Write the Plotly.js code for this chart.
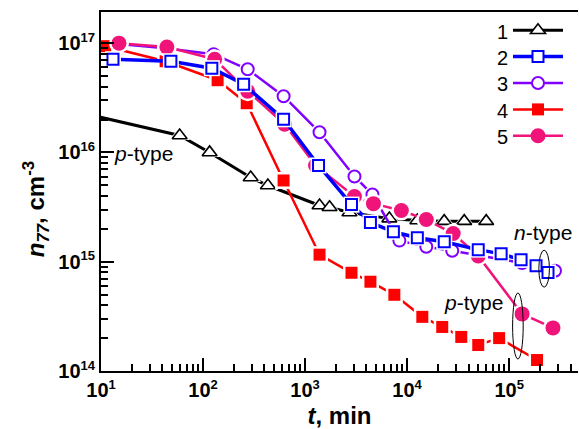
<!DOCTYPE html>
<html>
<head>
<meta charset="utf-8">
<script src="https://cdn.plot.ly/plotly-3.0.1.min.js"></script>
<style>html,body{margin:0;padding:0;background:#fff;}#chart{width:579px;height:429px;}</style>
</head>
<body>
<div id="chart"></div>
<script>
// ---- data (t in min, n77 in cm^-3) ----
const seriesNames = ['1', '2', '3', '4', '5'];
const t1 = [7, 59, 116, 293, 432, 1386, 1738, 2724, 6700, 12600, 23100, 36300, 59600];
const n1 = [2.26e16, 1.43e16, 1.0e16, 5.9e15, 4.98e15, 3.27e15, 3.15e15, 2.82e15, 2.48e15, 2.38e15, 2.35e15, 2.35e15, 2.35e15];
const t2 = [13.1, 48.4, 122, 250, 616, 1355, 2851, 4372, 7340, 12600, 23130, 49800, 83500, 130900, 183600, 240400];
const n2 = [7.13e16, 6.83e16, 5.9e16, 4.21e16, 2.01e16, 7.6e15, 3.33e15, 2.28e15, 1.88e15, 1.66e15, 1.52e15, 1.29e15, 1.18e15, 1.04e15, 9.18e14, 7.98e14];
const t3 = [15, 43, 127, 274, 616, 1386, 3050, 4574, 8400, 15420, 27700, 134000, 281500];
const n3 = [9.8e16, 9.0e16, 7.92e16, 5.77e16, 3.27e16, 1.53e16, 6.03e15, 4.12e15, 1.56e15, 1.37e15, 1.26e15, 9.73e14, 8.26e14];
const t4 = [11, 43, 139, 268, 616, 1386, 2851, 4372, 7500, 14100, 22100, 33950, 49800, 79800, 187800];
const n4 = [9.38e16, 6.83e16, 4.58e16, 2.82e16, 5.54e15, 1.16e15, 7.92e14, 6.56e14, 4.98e14, 3.13e14, 2.53e14, 2.05e14, 1.73e14, 2.0e14, 1.26e14];
const t5 = [15, 44.2, 130, 274, 630, 1267, 3050, 4680, 8790, 15420, 28300, 49800, 134000, 269000];
const n5 = [1.0e17, 9.2e16, 7.13e16, 3.63e16, 1.81e16, 7.6e15, 3.95e15, 3.4e15, 2.94e15, 2.43e15, 1.81e15, 1.13e15, 3.33e14, 2.48e14];
const xTickVals = [10, 100, 1000, 10000, 100000];
const xTickExp = ['1', '2', '3', '4', '5'];
const yTickVals = [1e14, 1e15, 1e16, 1e17];
const yTickExp = ['14', '15', '16', '17'];

const FONT = 'Liberation Sans, Arial, sans-serif';
function powLabel(e) { return '10<sup><span style="font-size:13px">' + e + '</span></sup>'; }

const styles = [
  {t: t1, n: n1, color: '#000000', symbol: 'triangle-up', size: 13, fill: '#ffffff', lw: 1.6, width: 3},
  {t: t2, n: n2, color: '#0000ff', symbol: 'square', size: 11, fill: '#ffffff', lw: 2, width: 3.5},
  {t: t3, n: n3, color: '#8000ff', symbol: 'circle', size: 12, fill: '#ffffff', lw: 2, width: 2.5},
  {t: t4, n: n4, color: '#ff0000', symbol: 'square', size: 12, fill: '#ff0000', lw: 0, width: 2.5},
  {t: t5, n: n5, color: '#f0147a', symbol: 'circle', size: 15, fill: '#f0147a', lw: 0, width: 2.5}
];
const drawOrder = [0, 2, 3, 4, 1];

const traces = [];
drawOrder.forEach(function (i) {
  const s = styles[i];
  const mk = {symbol: s.symbol, size: s.size, color: s.fill, line: {color: s.color, width: s.lw}};
  traces.push({
    x: s.t, y: s.n, type: 'scatter', mode: 'lines+markers', name: ' ',
    legendrank: i + 1, showlegend: true,
    line: {color: s.color, width: s.width}, marker: mk, hoverinfo: 'skip'
  });
  traces.push({
    x: s.t, y: s.n, type: 'scatter', mode: 'markers', showlegend: false, hoverinfo: 'skip',
    marker: {symbol: s.symbol, size: s.size + 5, color: '#ffffff', line: {color: '#ffffff', width: 0}}
  });
  traces.push({
    x: s.t, y: s.n, type: 'scatter', mode: 'markers', showlegend: false, hoverinfo: 'skip',
    marker: mk
  });
});

// paper coordinates: plot area spans x 101..579, y 12..371 px
const annotations = [];
const legendRowsY = [0.945, 0.872, 0.799, 0.725, 0.652];
seriesNames.forEach(function (nm, k) {
  annotations.push({text: nm, xref: 'paper', yref: 'paper', x: 0.858, y: legendRowsY[k],
    xanchor: 'right', yanchor: 'middle', showarrow: false, font: {family: FONT, size: 20, color: '#000'}});
});
annotations.push({text: '<i>p</i>-type', xref: 'paper', yref: 'paper', x: 0.090, y: 0.607,
  xanchor: 'center', yanchor: 'middle', showarrow: false, font: {family: FONT, size: 21, color: '#000'}});
annotations.push({text: '<i>n</i>-type', xref: 'paper', yref: 'paper', x: 0.927, y: 0.387,
  xanchor: 'center', yanchor: 'middle', showarrow: false, font: {family: FONT, size: 21, color: '#000'}});
annotations.push({text: '<i>p</i>-type', xref: 'paper', yref: 'paper', x: 0.780, y: 0.192,
  xanchor: 'center', yanchor: 'middle', showarrow: false, font: {family: FONT, size: 21, color: '#000'}});
// y-axis title (placed as rotated annotation to match the reference position)
annotations.push({text: '<b><i>n</i><sub><i>77</i></sub>, cm<sup>-3</sup></b>', xref: 'paper', yref: 'paper',
  x: -0.136, y: 0.451, xanchor: 'center', yanchor: 'middle', textangle: -90, showarrow: false,
  font: {family: FONT, size: 24, color: '#000'}});

const shapes = [
  {type: 'circle', xref: 'paper', yref: 'paper', xsizemode: 'pixel', ysizemode: 'pixel',
   xanchor: 0.929, yanchor: 0.285, x0: -5.3, x1: 5.3, y0: -18.5, y1: 18.5,
   line: {color: '#000', width: 1}},
  {type: 'circle', xref: 'paper', yref: 'paper', xsizemode: 'pixel', ysizemode: 'pixel',
   xanchor: 0.874, yanchor: 0.1253, x0: -5.3, x1: 5.3, y0: -33, y1: 33,
   line: {color: '#000', width: 1}}
];

const tickFont = {family: FONT, size: 20, color: '#000', weight: 'bold'};
const axisCommon = {
  type: 'log', showgrid: false, zeroline: false, showline: true, linecolor: '#000', linewidth: 2,
  ticks: 'inside', ticklen: 13, tickwidth: 2, tickcolor: '#000', tickmode: 'array',
  tickfont: tickFont,
  minor: {ticks: 'inside', ticklen: 7, tickwidth: 2, tickcolor: '#000', dtick: 'D1', showgrid: false}
};

const layout = {
  width: 579, height: 429,
  margin: {l: 101, r: 0, t: 12, b: 58, pad: 0},
  paper_bgcolor: '#fff', plot_bgcolor: '#fff',
  font: {family: FONT, color: '#000'},
  showlegend: true,
  legend: {x: 0.853, y: 1.0, xanchor: 'left', yanchor: 'top', bgcolor: 'rgba(0,0,0,0)',
    borderwidth: 0, itemwidth: 50, font: {family: FONT, size: 18, color: '#000'}, traceorder: 'normal'},
  xaxis: Object.assign({}, axisCommon, {
    range: [1, 5.675], mirror: true,
    tickvals: xTickVals, ticktext: xTickExp.map(powLabel),
    title: {text: '<b><i>t</i>, min</b>', font: {family: FONT, size: 24, color: '#000'}, standoff: 16}
  }),
  yaxis: Object.assign({}, axisCommon, {
    range: [14, 17.285],
    tickvals: yTickVals, ticktext: yTickExp.map(powLabel)
  }),
  annotations: annotations,
  shapes: shapes
};

Plotly.newPlot('chart', traces, layout, {staticPlot: true, displayModeBar: false});
</script>
</body>
</html>
